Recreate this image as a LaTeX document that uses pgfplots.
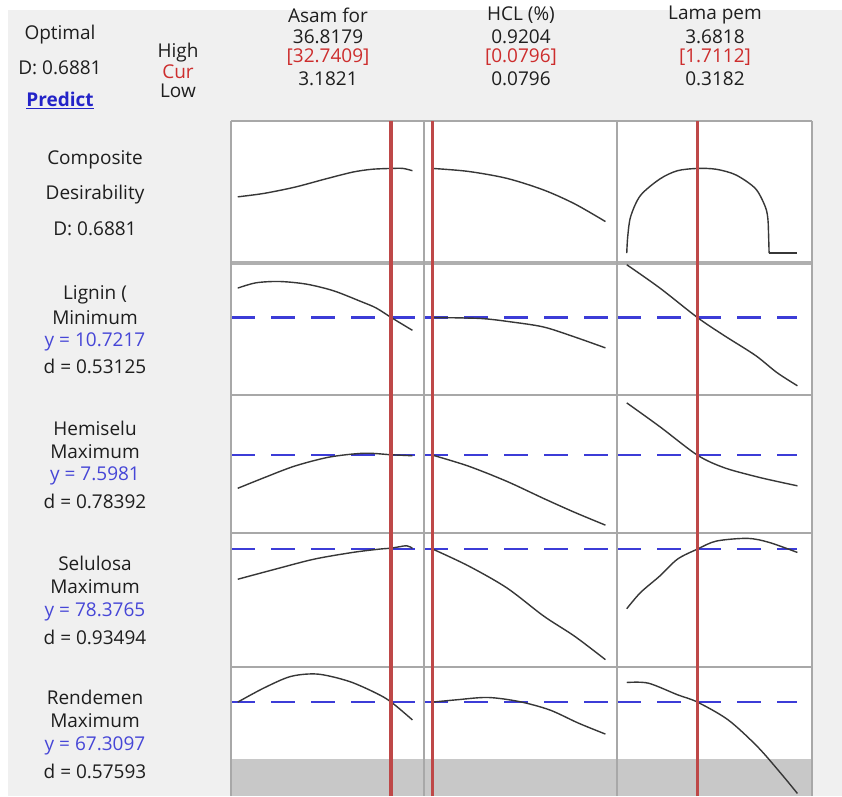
\documentclass[border=0pt]{standalone}
\usepackage{pgfplots}
\pgfplotsset{compat=1.18}
\usepackage{fontspec}
\setmainfont{Open Sans}
\definecolor{bg}{RGB}{240,240,240}
\definecolor{frame}{RGB}{168,168,168}
\definecolor{thickg}{RGB}{175,175,175}
\definecolor{curv}{RGB}{55,55,55}
\definecolor{redl}{RGB}{190,72,72}
\definecolor{bluel}{RGB}{60,60,215}
\definecolor{bluet}{RGB}{70,70,215}
\definecolor{predblue}{RGB}{35,35,200}
\definecolor{redt}{RGB}{205,45,45}
\definecolor{txt}{RGB}{30,30,30}
\definecolor{shade}{RGB}{200,200,200}
\pgfplotsset{
 pan/.style={scale only axis, hide axis, ymin=0, ymax=1, anchor=south west},
 c1/.style={pan, xmin=1.881, xmax=39.051, width=193pt},
 c2/.style={pan, xmin=0.0373, xmax=0.9767, width=193pt},
 c3/.style={pan, xmin=0.126, xmax=3.970, width=195pt},
 crv/.style={curv, line width=1.4pt, no markers},
 dsh/.style={bluel, line width=2.2pt, dash pattern=on 24pt off 16pt, no markers},
 rl/.style={redl, line width=3.6pt, no markers},
}
\begin{document}
\begin{tikzpicture}[every node/.style={font=\fontsize{19}{22}\selectfont, inner sep=0pt, text=txt}]
\path[use as bounding box] (0,0) rectangle (842pt,-796pt);
\fill[white] (0,0) rectangle (842pt,-796pt);
\fill[bg] (8pt,-10pt) rectangle (842pt,-796pt);
\fill[white] (231pt,-121pt) rectangle (812pt,-796pt);
\draw[thickg, line width=4pt] (231pt,-263pt) -- (812pt,-263pt);

% ---------- Composite desirability ----------
\begin{axis}[c1, at={(231pt,-263pt)}, height=142pt]
\addplot[crv, smooth] coordinates {(3.1821,0.466) (8.2,0.49) (14.15,0.534) (20.1,0.592) (25.3,0.64) (29.0,0.66) (32.74,0.666) (35.0,0.666) (36.8179,0.65)};
\end{axis}
\begin{axis}[c2, at={(424pt,-263pt)}, height=142pt]
\addplot[crv, smooth] coordinates {(0.0796,0.666) (0.253,0.645) (0.441,0.596) (0.620,0.514) (0.770,0.417) (0.9204,0.292)};
\end{axis}
\begin{axis}[c3, at={(617pt,-263pt)}, height=142pt]
\addplot[crv, smooth] coordinates {(0.3182,0.07) (0.337,0.185) (0.395,0.327) (0.587,0.475) (0.972,0.592) (1.318,0.65) (1.7112,0.666) (2.086,0.66) (2.471,0.62) (2.855,0.524) (3.047,0.398) (3.10,0.311) (3.115,0.185) (3.124,0.07)};
\addplot[crv] coordinates {(3.124,0.07) (3.6818,0.07)};
\end{axis}

% ---------- Lignin ----------
\begin{axis}[c1, at={(231pt,-395pt)}, height=132pt]
\addplot[dsh] coordinates {(1.881,0.587) (39.051,0.587)};
\addplot[crv, smooth] coordinates {(3.1821,0.81) (6.7,0.85) (11.2,0.86) (16.4,0.84) (21.6,0.79) (26.8,0.71) (29.8,0.66) (32.74,0.587) (36.8179,0.49)};
\end{axis}
\begin{axis}[c2, at={(424pt,-395pt)}, height=132pt]
\addplot[dsh] coordinates {(0.0373,0.587) (0.9767,0.587)};
\addplot[crv, smooth] coordinates {(0.0796,0.587) (0.310,0.58) (0.460,0.554) (0.620,0.515) (0.770,0.44) (0.9204,0.357)};
\end{axis}
\begin{axis}[c3, at={(617pt,-395pt)}, height=132pt]
\addplot[dsh] coordinates {(0.126,0.587) (3.6818,0.587)};
\addplot[crv, smooth] coordinates {(0.3182,0.987) (0.972,0.81) (1.7112,0.587) (2.240,0.45) (2.855,0.30) (3.278,0.17) (3.6818,0.07)};
\end{axis}

% ---------- Hemiselulosa ----------
\begin{axis}[c1, at={(231pt,-533pt)}, height=138pt]
\addplot[dsh] coordinates {(1.881,0.564) (39.051,0.564)};
\addplot[crv, smooth] coordinates {(3.1821,0.324) (8.2,0.40) (14.15,0.485) (20.8,0.55) (27.5,0.578) (32.74,0.567) (36.8179,0.56)};
\end{axis}
\begin{axis}[c2, at={(424pt,-533pt)}, height=138pt]
\addplot[dsh] coordinates {(0.0373,0.564) (0.9767,0.564)};
\addplot[crv, smooth] coordinates {(0.0796,0.564) (0.253,0.485) (0.441,0.374) (0.620,0.25) (0.770,0.15) (0.9204,0.057)};
\end{axis}
\begin{axis}[c3, at={(617pt,-533pt)}, height=138pt]
\addplot[dsh] coordinates {(0.126,0.564) (3.6818,0.564)};
\addplot[crv, smooth] coordinates {(0.3182,0.943) (0.972,0.77) (1.7112,0.564) (2.240,0.473) (2.855,0.41) (3.278,0.374) (3.6818,0.342)};
\end{axis}

% ---------- Selulosa ----------
\begin{axis}[c1, at={(231pt,-667pt)}, height=134pt]
\addplot[dsh] coordinates {(1.881,0.88) (39.051,0.88)};
\addplot[crv, smooth] coordinates {(3.1821,0.655) (10.4,0.73) (17.9,0.805) (25.3,0.855) (30.5,0.88) (32.74,0.887) (35.7,0.905) (36.8179,0.885)};
\end{axis}
\begin{axis}[c2, at={(424pt,-667pt)}, height=134pt]
\addplot[dsh] coordinates {(0.0373,0.88) (0.9767,0.88)};
\addplot[crv, smooth] coordinates {(0.0796,0.88) (0.253,0.755) (0.441,0.59) (0.620,0.38) (0.770,0.23) (0.9204,0.055)};
\end{axis}
\begin{axis}[c3, at={(617pt,-667pt)}, height=134pt]
\addplot[dsh] coordinates {(0.126,0.88) (3.6818,0.88)};
\addplot[crv, smooth] coordinates {(0.3182,0.435) (0.587,0.555) (0.972,0.68) (1.318,0.805) (1.7112,0.88) (2.086,0.94) (2.70,0.96) (3.124,0.93) (3.6818,0.855)};
\end{axis}

% ---------- Rendemen ----------
\begin{axis}[c1, at={(231pt,-796pt)}, height=129pt]
\addplot[fill=shade, draw=none] coordinates {(1.881,0) (39.051,0) (39.051,0.287) (1.881,0.287)} -- cycle;
\addplot[dsh] coordinates {(1.881,0.728) (39.051,0.728)};
\addplot[crv, smooth] coordinates {(3.1821,0.728) (8.2,0.837) (13.4,0.927) (18.6,0.945) (24.6,0.889) (29.8,0.798) (32.74,0.728) (36.8179,0.59)};
\end{axis}
\begin{axis}[c2, at={(424pt,-796pt)}, height=129pt]
\addplot[fill=shade, draw=none] coordinates {(0.0373,0) (0.9767,0) (0.9767,0.287) (0.0373,0.287)} -- cycle;
\addplot[dsh] coordinates {(0.0373,0.728) (0.9767,0.728)};
\addplot[crv, smooth] coordinates {(0.0796,0.728) (0.197,0.746) (0.347,0.764) (0.498,0.733) (0.648,0.668) (0.789,0.565) (0.9204,0.48)};
\end{axis}
\begin{axis}[c3, at={(617pt,-796pt)}, height=129pt]
\addplot[fill=shade, draw=none] coordinates {(0.126,0) (3.970,0) (3.970,0.287) (0.126,0.287)} -- cycle;
\addplot[dsh] coordinates {(0.126,0.728) (3.6818,0.728)};
\addplot[crv, smooth] coordinates {(0.3182,0.88) (0.741,0.875) (1.318,0.785) (1.7112,0.728) (2.317,0.59) (2.894,0.383) (3.355,0.176) (3.6818,0.02)};
\end{axis}

% ---------- frames ----------
\draw[frame, line width=1.6pt] (231pt,-121pt) -- (812pt,-121pt);
\foreach \yy in {395,533,667} \draw[frame, line width=1.6pt] (231pt,-\yy pt) -- (812pt,-\yy pt);
\foreach \xx in {231,424,617,812} \draw[frame, line width=1.6pt] (\xx pt,-121pt) -- (\xx pt,-796pt);

% ---------- current settings (red lines) ----------
\begin{axis}[c1, at={(231pt,-796pt)}, height=675pt]
\addplot[rl] coordinates {(32.7409,0) (32.7409,1)};
\end{axis}
\begin{axis}[c2, at={(424pt,-796pt)}, height=675pt]
\addplot[rl] coordinates {(0.0796,0) (0.0796,1)};
\end{axis}
\begin{axis}[c3, at={(617pt,-796pt)}, height=675pt]
\addplot[rl] coordinates {(1.7112,0) (1.7112,1)};
\end{axis}

% ---------- header text ----------
\node at (60pt,-35pt) {Optimal};
\node at (60pt,-68pt) {D: 0.6881};
\node[text=predblue] at (60pt,-100pt) {\bfseries\underline{Predict}};
\node at (178pt,-53pt) {High};
\node[text=redt] at (178pt,-72pt) {Cur};
\node at (178pt,-91pt) {Low};

\node at (328pt,-15pt) {Asam for};
\node at (328pt,-37pt) {36.8179};
\node[text=redt] at (328pt,-57pt) {[32.7409]};
\node at (328pt,-79pt) {3.1821};

\node at (521pt,-15pt) {HCL (\%)};
\node at (521pt,-37pt) {0.9204};
\node[text=redt] at (521pt,-57pt) {[0.0796]};
\node at (521pt,-79pt) {0.0796};

\node at (715pt,-15pt) {Lama pem};
\node at (715pt,-37pt) {3.6818};
\node[text=redt] at (715pt,-57pt) {[1.7112]};
\node at (715pt,-79pt) {0.3182};

% ---------- row labels ----------
\node at (95pt,-160pt) {Composite};
\node at (95pt,-195pt) {Desirability};
\node at (95pt,-229pt) {D: 0.6881};

\node at (95pt,-295pt) {Lignin (};
\node at (95pt,-318pt) {Minimum};
\node[text=bluet] at (95pt,-342pt) {y = 10.7217};
\node at (95pt,-366pt) {d = 0.53125};

\node at (95pt,-428pt) {Hemiselu};
\node at (95pt,-452pt) {Maximum};
\node[text=bluet] at (95pt,-476pt) {y = 7.5981};
\node at (95pt,-501pt) {d = 0.78392};

\node at (95pt,-563pt) {Selulosa};
\node at (95pt,-587pt) {Maximum};
\node[text=bluet] at (95pt,-612pt) {y = 78.3765};
\node at (95pt,-637pt) {d = 0.93494};

\node at (95pt,-697pt) {Rendemen};
\node at (95pt,-721pt) {Maximum};
\node[text=bluet] at (95pt,-746pt) {y = 67.3097};
\node at (95pt,-771pt) {d = 0.57593};
\end{tikzpicture}
\end{document}
